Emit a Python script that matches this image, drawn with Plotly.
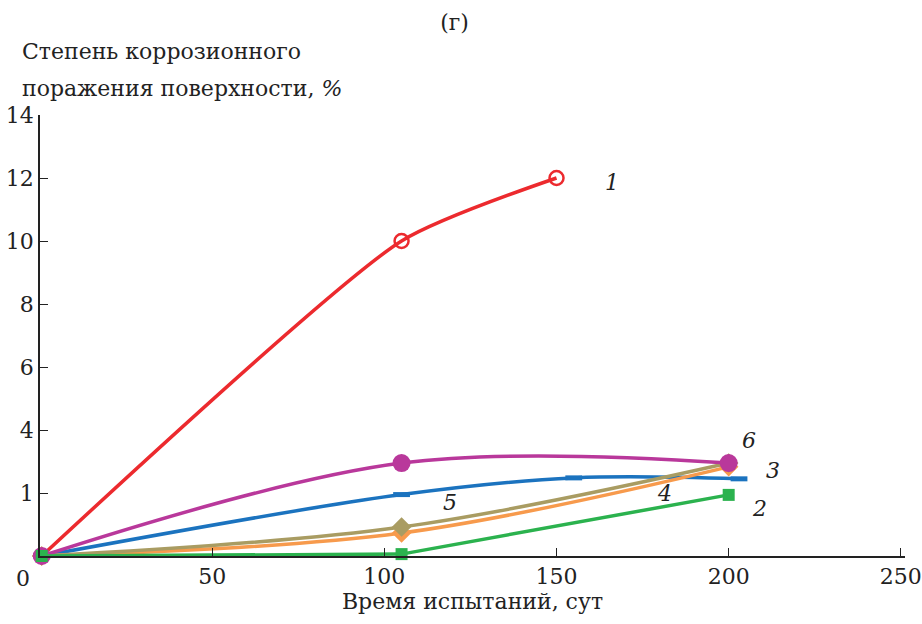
import plotly.graph_objects as go

# Data
x1 = [0.5, 105, 150]; y1 = [0, 10, 12]
x6 = [0.5, 105, 200]; y6 = [0, 2.95, 2.95]
x5 = [0.5, 105, 155, 203]; y5 = [0, 1.95, 2.48, 2.45]
x3 = [0.5, 105, 200]; y3 = [0, 0.73, 2.83]
x4 = [0.5, 105, 200]; y4 = [0, 0.92, 2.95]
x2 = [0.5, 105, 200]; y2 = [0, 0.06, 1.94]

x_ticks = [0, 50, 100, 150, 200, 250]
x_ticktext = ["", "50", "100", "150", "200", "250"]
y_ticks = [0, 2, 4, 6, 8, 10, 12, 14]
y_ticktext = ["", "1", "4", "6", "8", "10", "12", "14"]

curve_labels = ["1", "6", "3", "4", "5", "2"]
label_x = [166, 206, 212.8, 181.5, 119, 209]
label_y = [11.87, 3.68, 2.73, 1.99, 1.71, 1.52]

FONT = "DejaVu Serif"
FS = 22
TXT = "#222"
fig = go.Figure()

def add(x, y, color, symbol, size, shape="spline", smoothing=1.0, mline=None):
    marker = dict(symbol=symbol, size=size, color=color)
    if mline:
        marker["line"] = mline
    fig.add_trace(go.Scatter(x=x, y=y, mode="lines+markers",
                             line=dict(color=color, width=3.5, shape=shape, smoothing=smoothing),
                             marker=marker, showlegend=False, cliponaxis=False))

add(x1, y1, "#ec2a2e", "circle-open", 14, smoothing=0.6, mline=dict(color="#ec2a2e", width=2.5))
add(x5, y5, "#1b73bf", "line-ew", 12, mline=dict(color="#1b73bf", width=5))
add(x3, y3, "#f79a4c", "diamond", 15)
add(x4, y4, "#a99c62", "diamond", 15)
add(x6, y6, "#b9389b", "circle", 18)
add(x2, y2, "#2bb24e", "square", 12, shape="linear")

for t, lx, ly in zip(curve_labels, label_x, label_y):
    fig.add_annotation(x=lx, y=ly, text="<i>" + t + "</i>", showarrow=False,
                       font=dict(family=FONT, size=FS, color=TXT))

fig.add_annotation(x=0, y=0, xref="x", yref="y", text="0", showarrow=False,
                   xshift=-17, yshift=-22, font=dict(family=FONT, size=FS, color=TXT))

fig.add_annotation(xref="paper", yref="paper", x=-0.023, y=1.1429, yanchor="middle", xanchor="left",
                   showarrow=False, text="Степень коррозионного",
                   font=dict(family=FONT, size=FS, color=TXT))
fig.add_annotation(xref="paper", yref="paper", x=-0.023, y=1.0612, yanchor="middle", xanchor="left",
                   showarrow=False, text="поражения поверхности, <i>%</i>",
                   font=dict(family=FONT, size=FS, color=TXT))

fig.update_layout(
    width=922, height=624,
    margin=dict(l=40, r=17, t=115, b=68, autoexpand=False),
    paper_bgcolor="white", plot_bgcolor="white",
    font=dict(family=FONT, size=FS, color=TXT),
    title=dict(text="(г)", x=0.493, xanchor="center", y=0.965, yanchor="middle",
               font=dict(family=FONT, size=FS, color=TXT)),
    xaxis=dict(range=[0, 251.2], tickvals=x_ticks, ticktext=x_ticktext, automargin=False,
               ticks="inside", ticklen=8, tickwidth=1, tickcolor=TXT,
               showline=True, linecolor=TXT, linewidth=1.5, showgrid=False, zeroline=False,
               tickfont=dict(family=FONT, size=FS, color=TXT),
               title=dict(text="Время испытаний, сут", standoff=2,
                          font=dict(family=FONT, size=FS, color=TXT))),
    yaxis=dict(range=[0, 14], tickvals=y_ticks, ticktext=y_ticktext, automargin=False,
               ticks="inside", ticklen=8, tickwidth=1, tickcolor=TXT,
               showline=True, linecolor=TXT, linewidth=1.5, showgrid=False, zeroline=False,
               tickfont=dict(family=FONT, size=FS, color=TXT)),
)

fig.write_html("out.html")
